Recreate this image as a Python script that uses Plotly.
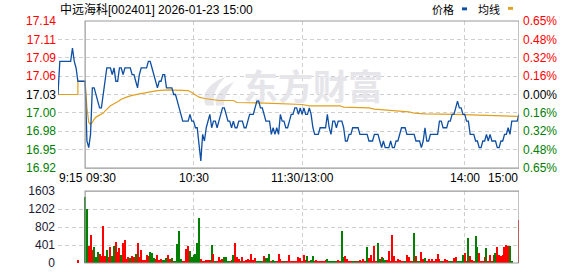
import plotly.graph_objects as go

# ---------------- DATA ----------------
prev_close = 17.03
title_text = "中远海科[002401] 2026-01-23 15:00"

# pre-market (9:15 .. 9:29), minute offsets from 9:30
pre_minutes = list(range(-15, 0))
pre_price = [17.03, 17.08, 17.08, 17.08, 17.08, 17.08, 17.08, 17.08,
             17.10, 17.08, 17.07, 17.05, 17.05, 17.05, 17.05]

# main session 9:30 .. 11:30 / 13:01 .. 15:00 (241 minutes)
price = [
    17.05, 16.96, 16.95, 16.97, 17.04, 17.04, 17.03, 17.02, 17.01, 17.01,
    17.03, 17.05, 17.07, 17.07, 17.07, 17.06, 17.07, 17.05, 17.05, 17.07,
    17.07, 17.06, 17.07, 17.07, 17.07, 17.07, 17.06, 17.06, 17.05, 17.04,
    17.06, 17.07, 17.07, 17.07, 17.07, 17.08, 17.08, 17.07, 17.06, 17.05,
    17.04, 17.05, 17.05, 17.06, 17.06, 17.04, 17.04, 17.04, 17.04, 17.03,
    17.03, 17.02, 17.01, 17.00, 16.99, 16.99, 16.99, 16.99, 17.00, 16.99,
    16.99, 16.98, 16.98, 16.95, 16.93, 16.97, 16.96, 16.98, 16.99, 17.00,
    16.98, 16.99, 16.99, 16.98, 16.99, 17.00, 17.01, 17.01, 17.00, 16.99,
    16.99, 16.98, 16.99, 16.98, 16.98, 16.99, 16.99, 16.99, 16.98, 16.98,
    16.99, 17.00, 17.00, 17.00, 17.01, 17.02, 17.02, 17.01, 17.01, 17.00,
    16.99, 16.99, 16.99, 16.97, 16.98, 16.97, 16.98, 16.97, 17.00, 16.99,
    16.99, 16.98, 16.98, 16.99, 17.00, 17.00, 17.01, 17.01, 17.00, 17.01,
    17.00, 17.01, 17.00, 17.00, 17.01, 17.00, 16.98, 16.97, 16.97, 16.97,
    16.98, 16.98, 16.98, 16.98, 17.00, 16.98, 16.97, 16.99, 16.99, 16.98,
    16.99, 16.99, 16.99, 16.98, 16.96, 16.96, 16.97, 16.97, 16.98, 16.98,
    16.98, 16.98, 16.97, 16.97, 16.97, 16.97, 16.97, 16.96, 16.96, 16.96,
    16.97, 16.97, 16.97, 16.96, 16.95, 16.96, 16.95, 16.95, 16.95, 16.96,
    16.95, 16.95, 16.96, 16.96, 16.97, 16.98, 16.98, 16.98, 16.97, 16.97,
    16.97, 16.97, 16.97, 16.96, 16.96, 16.96, 16.95, 16.96, 16.98, 16.96,
    16.96, 16.97, 16.97, 16.97, 16.97, 16.97, 16.99, 16.99, 16.98, 16.98,
    16.98, 16.99, 16.99, 17.00, 17.00, 17.01, 17.02, 17.01, 17.01, 17.00,
    17.00, 16.99, 16.99, 16.97, 16.97, 16.97, 16.96, 16.96, 16.95, 16.95,
    16.96, 16.96, 16.97, 16.96, 16.97, 16.96, 16.96, 16.96, 16.95, 16.95,
    16.96, 16.96, 16.97, 16.97, 16.98, 16.97, 16.99, 16.99, 16.99, 16.99,
    17.00,
]

# average-price line read at selected minutes
avg_minutes = [-15, -4, -4, 0, 1, 2, 3, 4, 5, 6, 8, 10, 11, 14, 18, 20, 23, 25,
               30, 37, 40, 46, 55, 57, 59, 63, 66, 70, 74, 82, 84, 100, 108,
               120, 124, 141, 143, 152, 157, 160, 168, 171, 179, 182, 188, 205,
               218, 225, 231, 240]
avg_price = [17.03, 17.03, 17.05, 17.05, 17.01, 16.988, 16.985, 16.988, 16.993,
             16.996, 16.999, 17.002, 17.005, 17.013, 17.019, 17.023, 17.026,
             17.028, 17.031, 17.034, 17.036, 17.037, 17.037, 17.036, 17.033,
             17.026, 17.024, 17.023, 17.021, 17.021, 17.018, 17.017, 17.016,
             17.015, 17.013, 17.013, 17.011, 17.011, 17.010, 17.008, 17.006,
             17.005, 17.004, 17.002, 17.001, 17.000, 16.999, 16.998, 16.997,
             16.997]

# volume (lots); direction u = up (red), d = down (green)
pre_vol_minute = [-4]
pre_vol = [65]
pre_dir = ["u"]

vol = [
    1465, 1191, 368, 628, 289, 347, 130, 253, 195, 159,
    823, 152, 282, 137, 347, 152, 368, 477, 253, 325,
    180, 448, 520, 87, 130, 115, 152, 130, 195, 433,
    130, 282, 58, 65, 173, 152, 238, 217, 108, 79,
    173, 65, 87, 72, 72, 108, 173, 79, 108, 43,
    22, 412, 708, 87, 51, 29, 303, 368, 260, 130,
    180, 210, 433, 1004, 87, 22, 22, 58, 58, 72,
    390, 195, 29, 51, 130, 72, 94, 130, 130, 43,
    29, 58, 173, 433, 130, 87, 29, 130, 29, 72,
    87, 58, 195, 58, 101, 36, 36, 29, 29, 159,
    101, 101, 195, 51, 65, 43, 29, 195, 94, 51,
    22, 22, 43,
    173, 22, 22, 22, 22, 130, 115, 22, 173, 65,
    152, 51, 65, 152, 29, 65, 51, 43, 43, 22,
    65, 87, 22, 22, 22, 22, 22, 65, 29, 715,
    130, 152, 87, 22, 22, 43, 22, 29, 51, 65,
    51, 87, 29, 347, 108, 173, 29, 368, 43, 455,
    87, 130, 108, 65, 65, 260, 22, 628, 152, 22,
    87, 65, 22, 22, 22, 173, 130, 22, 22, 671,
    152, 22, 43, 238, 87, 108, 22, 87, 43, 87,
    22, 87, 195, 87, 43, 22, 79, 65, 22, 22,
    22, 101, 130, 22, 22, 51, 173, 217, 43, 563,
    152, 65, 43, 607, 347, 217, 22, 22, 130, 325,
    22, 173, 22, 173, 217, 347, 173, 152, 173, 347,
    390, 368, 368, 22,
    0, 0, 0, 953,
]
vol_dir = [
    "d", "d", "u", "u", "u", "d", "d", "d", "u", "u",
    "u", "u", "d", "u", "u", "d", "d", "u", "u", "u",
    "d", "u", "u", "u", "u", "d", "u", "u", "d", "u",
    "u", "u", "u", "u", "u", "u", "d", "d", "d", "u",
    "u", "u", "u", "d", "d", "d", "u", "u", "d", "u",
    "d", "d", "d", "d", "u", "u", "u", "u", "d", "d",
    "d", "d", "d", "d", "u", "u", "u", "u", "u", "u",
    "d", "u", "d", "u", "u", "u", "u", "d", "d", "d",
    "d", "u", "d", "u", "u", "u", "d", "u", "u", "u",
    "u", "u", "u", "u", "u", "d", "d", "d", "d", "u",
    "d", "d", "d", "u", "d", "d", "u", "u", "u", "u",
    "d", "u", "u",
    "u", "u", "u", "u", "u", "u", "u", "u", "u", "u",
    "d", "u", "d", "d", "u", "u", "u", "u", "u", "u",
    "u", "d", "d", "d", "d", "d", "d", "u", "u", "d",
    "d", "u", "u", "u", "u", "d", "d", "u", "d", "u",
    "u", "u", "u", "d", "u", "u", "u", "u", "u", "d",
    "d", "u", "d", "d", "u", "u", "u", "u", "u", "u",
    "u", "u", "u", "u", "d", "u", "u", "u", "u", "d",
    "u", "d", "d", "u", "u", "d", "u", "u", "u", "u",
    "u", "u", "u", "u", "d", "u", "u", "u", "u", "d",
    "d", "u", "u", "d", "d", "d", "d", "u", "u", "d",
    "u", "u", "u", "d", "d", "u", "u", "u", "u", "d",
    "u", "u", "d", "u", "d", "u", "u", "u", "u", "u",
    "u", "u", "d", "d",
    "u", "u", "u", "u",
]

y_ticks_price = [16.9193, 16.947, 16.9747, 17.0023, 17.03, 17.0577, 17.0853, 17.113, 17.1407]
y_ticks_label = ["16.92", "16.95", "16.98", "17.00", "17.03", "17.06", "17.09", "17.11", "17.14"]
pct_label = ["0.65%", "0.48%", "0.32%", "0.16%", "0.00%", "0.16%", "0.32%", "0.48%", "0.65%"]
vol_ticks = [0, 401, 802, 1202, 1603]
vol_tick_label = ["0", "401", "802", "1202", "1603"]
x_labels = [(-15, "9:15", "left"), (0, "09:30", "left"), (60, "10:30", "center"),
            (120, "11:30/13:00", "center"), (210, "14:00", "center"), (240, "15:00", "right")]
grid_minutes = [-15, 60, 120, 210]

# ---------------- STYLE ----------------
RED, GREEN, BLUE, GOLD = "#ff0000", "#008000", "#0e4fa3", "#e0a020"
GRID = "#cfcfcf"
WM = "#e6e6ea"
FONT = "Liberation Sans, Arial, Noto Sans CJK SC, sans-serif"
W, H = 578, 276
ML, MR, MT, MB = 58, 59, 21, 6
PW, PH = W - ML - MR, H - MT - MB


def px(x):
    return (x - ML) / PW


def py(y):
    return (H - MB - y) / PH


def colored(lbl, val):
    if abs(val - prev_close) < 1e-6:
        c = "#000000"
    elif val > prev_close:
        c = RED
    else:
        c = GREEN
    return f'<span style="color:{c}">{lbl}</span>'


fig = go.Figure()

# watermark (drawn first so it stays underneath)
fig.add_trace(go.Scatter(x=[126], y=[17.035], mode="text", text=["东方财富"],
                         textfont=dict(size=35, color=WM, family="Noto Sans CJK SC", weight="bold"),
                         hoverinfo="skip", showlegend=False))

minutes_all = pre_minutes + list(range(0, len(price)))
fig.add_trace(go.Scatter(x=avg_minutes, y=avg_price, mode="lines",
                         line=dict(color=GOLD, width=1.2), hoverinfo="skip", showlegend=False))
fig.add_trace(go.Scatter(x=minutes_all, y=pre_price + price, mode="lines",
                         line=dict(color=BLUE, width=1.3), hoverinfo="skip", showlegend=False))
# right axis helper
fig.add_trace(go.Scatter(x=[0], y=[prev_close], yaxis="y3", mode="markers",
                         marker=dict(opacity=0), hoverinfo="skip", showlegend=False))

bar_x = pre_vol_minute + list(range(0, len(vol)))
bar_y = pre_vol + vol
bar_c = [RED if d == "u" else GREEN for d in (pre_dir + vol_dir)]
fig.add_trace(go.Bar(x=bar_x, y=bar_y, marker=dict(color=bar_c, line=dict(width=0)),
                     width=0.6, xaxis="x2", yaxis="y2", hoverinfo="skip", showlegend=False))

axis_common = dict(showline=False, zeroline=False, ticks="", showgrid=True,
                   gridcolor=GRID, griddash="4px,3px", gridwidth=1)

fig.update_layout(
    width=W, height=H, margin=dict(l=ML, r=MR, t=MT, b=MB),
    paper_bgcolor="white", plot_bgcolor="white",
    font=dict(family=FONT, size=12, color="#000"),
    bargap=0,
    xaxis=dict(domain=[0, 1], range=[-15, 240], anchor="y", tickvals=grid_minutes,
               showticklabels=False, **axis_common),
    xaxis2=dict(domain=[0, 1], range=[-15, 240], anchor="y2", matches="x", tickvals=grid_minutes,
                showticklabels=False, **axis_common),
    yaxis=dict(domain=[py(172.3), 1], range=[y_ticks_price[0], y_ticks_price[-1]],
               tickvals=y_ticks_price,
               ticktext=[colored(l, v) for l, v in zip(y_ticks_label, y_ticks_price)],
               tickfont=dict(size=12, family=FONT), ticklabelstandoff=1, **axis_common),
    yaxis3=dict(overlaying="y", side="right", anchor="x",
                range=[y_ticks_price[0], y_ticks_price[-1]], tickvals=y_ticks_price,
                ticktext=[colored(l, v) for l, v in zip(pct_label, y_ticks_price)],
                tickfont=dict(size=12, family=FONT), showgrid=False, zeroline=False,
                showline=False, ticks="", ticklabelstandoff=3),
    yaxis2=dict(domain=[0, py(196)], range=[0, 1603], anchor="x2", tickvals=vol_ticks,
                ticktext=vol_tick_label, tickfont=dict(size=12, family=FONT, color="#1a1a33"),
                ticklabelstandoff=2, **axis_common),
)

# watermark logo (light flame strokes, below the data)
logo1 = (f"M {px(206)},{py(108)} C {px(200)},{py(96)} {px(210)},{py(84)} {px(226)},{py(78)} "
         f"C {px(216)},{py(88)} {px(212)},{py(98)} {px(214)},{py(108)} Z")
logo2 = (f"M {px(216)},{py(108)} C {px(214)},{py(98)} {px(222)},{py(88)} {px(234)},{py(84)} "
         f"C {px(226)},{py(94)} {px(224)},{py(102)} {px(224)},{py(108)} Z")
for p in (logo1, logo2):
    fig.add_shape(type="path", xref="paper", yref="paper", path=p, fillcolor=WM,
                  line=dict(width=0), layer="below")

# solid frames around the trading session area
fig.add_shape(type="rect", xref="x", yref="y domain", x0=0, x1=240, y0=0, y1=1,
              line=dict(color="#999999", width=1.2))
fig.add_shape(type="rect", xref="x2", yref="y2 domain", x0=0, x1=240, y0=0, y1=1,
              line=dict(color="#999999", width=1.2))

# x labels
for m, txt, anc in x_labels:
    fig.add_annotation(x=m, xref="x", y=py(183), yref="paper", text=txt, showarrow=False,
                       xanchor=anc, yanchor="middle", font=dict(size=12, color="#000"), borderpad=0)

# title
fig.add_annotation(x=px(59), xref="paper", y=py(9), yref="paper", text=title_text,
                   showarrow=False, xanchor="left", yanchor="middle",
                   font=dict(size=12, color="#000", family="Liberation Sans, Noto Sans CJK SC"), borderpad=0)

# legend
fig.add_annotation(x=px(431), xref="paper", y=py(9), yref="paper", text="价格",
                   showarrow=False, xanchor="left", yanchor="middle",
                   font=dict(size=11, color="#000", family="Noto Sans CJK SC"), borderpad=0)
fig.add_annotation(x=px(477), xref="paper", y=py(9), yref="paper", text="均线",
                   showarrow=False, xanchor="left", yanchor="middle",
                   font=dict(size=11, color="#000", family="Noto Sans CJK SC"), borderpad=0)
fig.add_shape(type="rect", xref="paper", yref="paper", x0=px(462), x1=px(467), y0=py(10), y1=py(7),
              fillcolor=BLUE, line=dict(width=0))
fig.add_shape(type="rect", xref="paper", yref="paper", x0=px(508), x1=px(513), y0=py(9.5), y1=py(6.5),
              fillcolor=GOLD, line=dict(width=0))

fig.write_html("out.html")
